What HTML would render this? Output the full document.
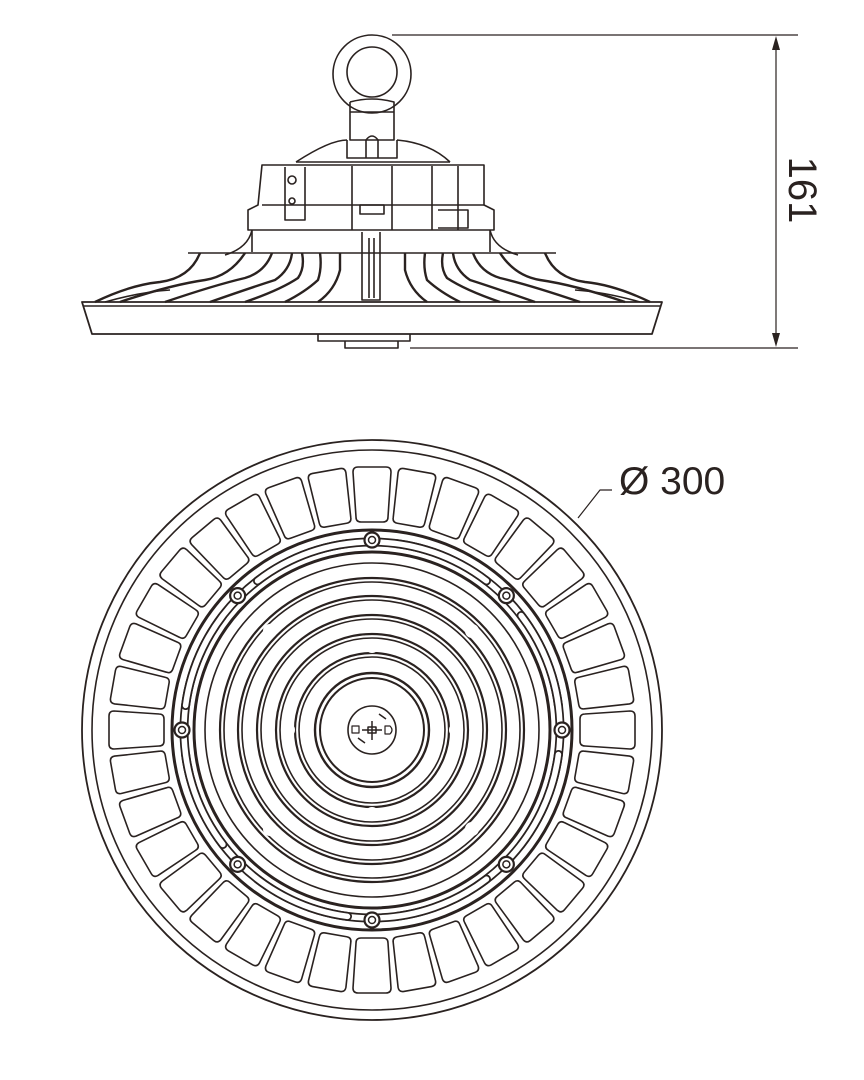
<!DOCTYPE html>
<html><head><style>
html,body{margin:0;padding:0;background:#fff;}
svg{display:block;}
</style></head><body>
<svg width="864" height="1080" viewBox="0 0 864 1080" xmlns="http://www.w3.org/2000/svg" xmlns:xlink="http://www.w3.org/1999/xlink">
<g fill="none" stroke="#2a2220" stroke-width="1.6" stroke-linejoin="round">
<line x1="392" y1="35" x2="798" y2="35" stroke-width="1.2"/>
<line x1="410" y1="348" x2="798" y2="348" stroke-width="1.2"/>
<line x1="776" y1="40" x2="776" y2="343" stroke-width="1.2"/>
<path d="M776 36 L772 50 L780 50 Z M776 347 L772 333 L780 333 Z" fill="#2a2220" stroke="none"/>
<circle cx="372" cy="74" r="39"/>
<circle cx="372" cy="72" r="25"/>
<path d="M350 102 L350 140 L394 140 L394 102 Q372 96 350 102"/>
<path d="M350 112 L394 112"/>
<path d="M347 140 L347 158 L397 158 L397 140"/>
<path d="M366 158 L366 140 Q372 132 378 140 L378 158"/>
<path d="M296 162 Q330 140 347 140 M397 140 Q430 143 450 162"/>
<path d="M296 162 L450 162"/>
<path d="M262 165 L484 165 L484 205 L494 210 L494 230 L248 230 L248 210 L258 205 Z"/>
<path d="M285 167 L285 220 L305 220 L305 167"/>
<circle cx="292" cy="180" r="4"/>
<circle cx="292" cy="201" r="3"/>
<path d="M352 166 L352 230 M392 166 L392 230 M360 205 L384 205 L384 214 L360 214 Z"/>
<path d="M432 166 L432 230 M458 166 L458 230 M438 210 L468 210 L468 228 L438 228"/>
<path d="M262 205 L484 205"/>
<path d="M252 230 L252 252 M490 230 L490 252"/>
<path d="M252 230 Q248 248 225 255 M490 230 Q494 248 518 255"/>
<path d="M362 232 L362 300 L380 300 L380 232"/>
<path d="M369 238 L369 298 M374 238 L374 298"/>
<path d="M188 253 L556 253"/>
<g stroke-width="2.4">
<path d="M95 302 Q130 285 160 282 Q190 278 200 253"/>
<path d="M120 302 Q170 285 205 280 Q230 276 245 253"/>
<path d="M165 302 Q215 285 245 278 Q265 272 272 253"/>
<path d="M210 302 Q250 288 275 280 Q290 270 292 253"/>
<path d="M245 302 Q280 290 298 278 Q305 268 302 253"/>
<path d="M285 302 Q305 292 318 280 Q322 268 320 253"/>
<path d="M318 302 Q335 290 340 270 L340 253"/>
<path d="M650 302 Q615 285 585 282 Q555 278 545 253"/>
<path d="M625 302 Q575 285 540 280 Q515 276 500 253"/>
<path d="M580 302 Q530 285 500 278 Q480 272 473 253"/>
<path d="M535 302 Q495 288 470 280 Q455 270 453 253"/>
<path d="M500 302 Q465 290 447 278 Q440 268 443 253"/>
<path d="M460 302 Q440 292 427 280 Q423 268 425 253"/>
<path d="M427 302 Q410 290 405 270 L405 253"/>
</g>
<path d="M105 302 Q140 292 170 290 M640 302 Q605 292 575 290"/>
<path d="M82 302 L662 302 L652 334 L92 334 Z" stroke-width="1.8"/>
<path d="M84 306 L660 306"/>
<path d="M318 334 L318 341 L410 341 L410 334 M345 341 L345 348 L398 348 L398 341"/>

<circle cx="372" cy="730" r="290" stroke-width="1.8"/>
<circle cx="372" cy="730" r="280"/>
<defs>
<path id="pad" d="M-19 -258 Q-19 -263 -14 -263 L14 -263 Q19 -263 19 -258 L16 -213 Q16 -208 11 -208 L-11 -208 Q-16 -208 -16 -213 Z"/>
</defs>
<g transform="translate(372 730)">
<use xlink:href="#pad" transform="rotate(0)"/><use xlink:href="#pad" transform="rotate(10)"/><use xlink:href="#pad" transform="rotate(20)"/><use xlink:href="#pad" transform="rotate(30)"/><use xlink:href="#pad" transform="rotate(40)"/><use xlink:href="#pad" transform="rotate(50)"/><use xlink:href="#pad" transform="rotate(60)"/><use xlink:href="#pad" transform="rotate(70)"/><use xlink:href="#pad" transform="rotate(80)"/><use xlink:href="#pad" transform="rotate(90)"/><use xlink:href="#pad" transform="rotate(100)"/><use xlink:href="#pad" transform="rotate(110)"/><use xlink:href="#pad" transform="rotate(120)"/><use xlink:href="#pad" transform="rotate(130)"/><use xlink:href="#pad" transform="rotate(140)"/><use xlink:href="#pad" transform="rotate(150)"/><use xlink:href="#pad" transform="rotate(160)"/><use xlink:href="#pad" transform="rotate(170)"/><use xlink:href="#pad" transform="rotate(180)"/><use xlink:href="#pad" transform="rotate(190)"/><use xlink:href="#pad" transform="rotate(200)"/><use xlink:href="#pad" transform="rotate(210)"/><use xlink:href="#pad" transform="rotate(220)"/><use xlink:href="#pad" transform="rotate(230)"/><use xlink:href="#pad" transform="rotate(240)"/><use xlink:href="#pad" transform="rotate(250)"/><use xlink:href="#pad" transform="rotate(260)"/><use xlink:href="#pad" transform="rotate(270)"/><use xlink:href="#pad" transform="rotate(280)"/><use xlink:href="#pad" transform="rotate(290)"/><use xlink:href="#pad" transform="rotate(300)"/><use xlink:href="#pad" transform="rotate(310)"/><use xlink:href="#pad" transform="rotate(320)"/><use xlink:href="#pad" transform="rotate(330)"/><use xlink:href="#pad" transform="rotate(340)"/><use xlink:href="#pad" transform="rotate(350)"/>
</g>
<circle cx="372" cy="730" r="200" stroke-width="3"/>
<circle cx="372" cy="730" r="178" stroke-width="3"/>
<g transform="translate(372 730)">
<g id="slotg">
<path d="M 186.4 -24.5 A 188 188 0 0 0 24.5 -186.4" stroke-width="9" stroke-linecap="round"/>
<path d="M 186.4 -24.5 A 188 188 0 0 0 24.5 -186.4" stroke="#fff" stroke-width="5.5" stroke-linecap="round"/>
</g>
<use xlink:href="#slotg" transform="rotate(45)"/>
<use xlink:href="#slotg" transform="rotate(90)"/>
<use xlink:href="#slotg" transform="rotate(135)"/>
<use xlink:href="#slotg" transform="rotate(180)"/>
<use xlink:href="#slotg" transform="rotate(225)"/>
<use xlink:href="#slotg" transform="rotate(270)"/>
<use xlink:href="#slotg" transform="rotate(315)"/>
<g id="scr"><circle cx="0" cy="-190" r="7.5" fill="#fff" stroke-width="2.2"/><circle cx="0" cy="-190" r="3.5" stroke-width="1.5"/></g>
<use xlink:href="#scr" transform="rotate(45)"/><use xlink:href="#scr" transform="rotate(90)"/><use xlink:href="#scr" transform="rotate(135)"/><use xlink:href="#scr" transform="rotate(180)"/><use xlink:href="#scr" transform="rotate(225)"/><use xlink:href="#scr" transform="rotate(270)"/><use xlink:href="#scr" transform="rotate(315)"/>
</g>
<circle cx="372" cy="730" r="167"/>
<circle cx="372" cy="730" r="152" stroke-width="2.2"/>
<circle cx="372" cy="730" r="148"/>
<circle cx="372" cy="730" r="134" stroke-width="2.2"/>
<circle cx="372" cy="730" r="130"/>
<circle cx="372" cy="730" r="115" stroke-width="2.2"/>
<circle cx="372" cy="730" r="111"/>
<circle cx="372" cy="730" r="96" stroke-width="2.2"/>
<circle cx="372" cy="730" r="92"/>
<circle cx="372" cy="730" r="77" stroke-width="2.2"/>
<circle cx="372" cy="730" r="73"/>
<circle cx="372" cy="730" r="57" stroke-width="2.4"/>
<circle cx="372" cy="730" r="52" stroke-width="2"/>
<circle cx="372" cy="730" r="24"/>
<g fill="#fff" stroke="none">
<circle cx="270" cy="631" r="7"/><circle cx="472" cy="631" r="7"/><circle cx="270" cy="829" r="7"/><circle cx="472" cy="829" r="7"/>
<circle cx="372" cy="646" r="7"/><circle cx="372" cy="814" r="7"/><circle cx="288" cy="730" r="7"/><circle cx="456" cy="730" r="7"/>
</g>
<path d="M372 721 L372 740 M362 730 L382 730 M368 727 L376 727 L376 733 L368 733 Z" stroke-width="1.5"/>
<rect x="352" y="726" width="7" height="7" stroke-width="1.2"/>
<path d="M385 726 L390 726 Q394 730 390 734 L385 734 Z" stroke-width="1.2"/>
<path d="M379 714 L386 719 M358 738 L365 743" stroke-width="1.5"/>
<path d="M612 490 L600 490 L578 518" stroke-width="1.2"/>
</g>
<text x="619" y="494" font-family="Liberation Sans, sans-serif" font-size="39" fill="#2a2220">Ø 300</text>
<text transform="translate(789 190) rotate(90)" font-family="Liberation Sans, sans-serif" font-size="40" fill="#2a2220" text-anchor="middle">161</text>
</svg>
</body></html>
